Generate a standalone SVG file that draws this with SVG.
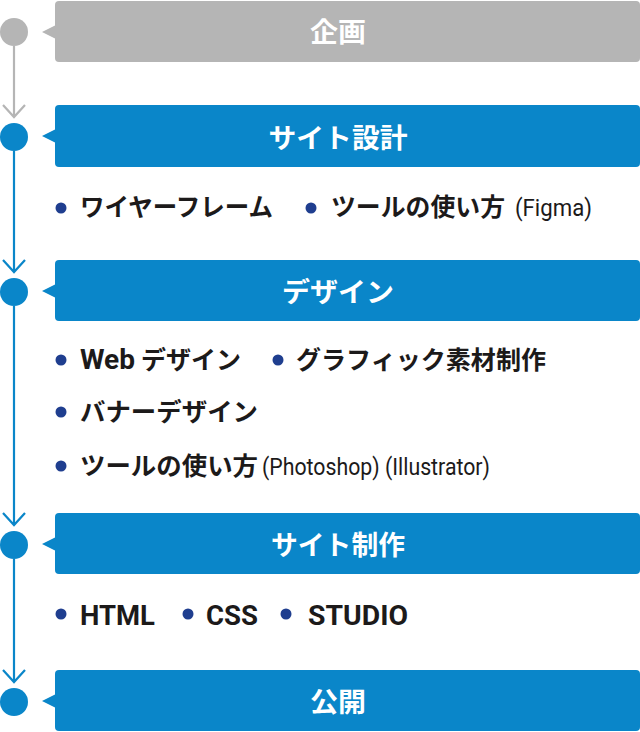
<svg xmlns="http://www.w3.org/2000/svg" width="640" height="732" viewBox="0 0 640 732">
<defs>
<style>
.gray{fill:#b5b5b5}
.blue{fill:#0a86c9}
.title{font-family:"Noto Sans CJK JP","Noto Sans",sans-serif;font-weight:bold;font-size:27px;fill:#ffffff;text-anchor:middle}
.item{font-family:"Noto Sans CJK JP","Noto Sans",sans-serif;font-weight:bold;font-size:25px;fill:#1c1a1a}
.lat{font-family:Roboto,"Liberation Sans",sans-serif;font-weight:bold;font-size:28px;fill:#1c1a1a}
.note{font-family:Roboto,"Liberation Sans",sans-serif;font-weight:normal;font-size:23px;fill:#1c1a1a}
.dot{fill:#1f3e8f}
.lg{stroke:#b5b5b5;stroke-width:2.2;fill:none}
.lb{stroke:#0a86c9;stroke-width:2.2;fill:none}
</style>
</defs>
<rect width="640" height="732" fill="#ffffff"/>

<g id="connectors">
<path class="lg" d="M14 46 V117 M3 105 L14 117 L25 105"/>
<path class="lb" d="M14 151 V272 M3 260 L14 272 L25 260"/>
<path class="lb" d="M14 306 V525 M3 513 L14 525 L25 513"/>
<path class="lb" d="M14 559 V682 M3 670 L14 682 L25 670"/>
</g>

<g id="node-kikaku">
<circle class="gray" cx="14" cy="32" r="14"/>
<polygon class="gray" points="42,32 56,25 56,39"/>
<rect class="gray" x="55" y="1" width="585" height="61" rx="4"/>
<text class="title" x="338" y="42" textLength="56" lengthAdjust="spacingAndGlyphs">企画</text>
</g>

<g id="node-site-sekkei">
<circle class="blue" cx="14" cy="137" r="14"/>
<polygon class="blue" points="42,136 56,129 56,143"/>
<rect class="blue" x="55" y="105" width="585" height="62" rx="4"/>
<text class="title" x="338" y="148" textLength="139" lengthAdjust="spacingAndGlyphs">サイト設計</text>
</g>

<g id="items-sekkei">
<circle class="dot" cx="61" cy="208" r="5.5"/>
<text class="item" x="80" y="216" textLength="193" lengthAdjust="spacingAndGlyphs">ワイヤーフレーム</text>
<circle class="dot" cx="311" cy="208" r="5.5"/>
<text class="item" x="331" y="216" textLength="174" lengthAdjust="spacingAndGlyphs">ツールの使い方</text>
<text class="note" x="515" y="216" textLength="77" lengthAdjust="spacingAndGlyphs">(Figma)</text>
</g>

<g id="node-design">
<circle class="blue" cx="14" cy="292" r="14"/>
<polygon class="blue" points="42,291 56,284 56,298"/>
<rect class="blue" x="55" y="260" width="585" height="61" rx="4"/>
<text class="title" x="338" y="302" textLength="112" lengthAdjust="spacingAndGlyphs">デザイン</text>
</g>

<g id="items-design">
<circle class="dot" cx="61" cy="360" r="5.5"/>
<text class="lat" x="80" y="369" textLength="55" lengthAdjust="spacingAndGlyphs">Web</text>
<text class="item" x="141" y="369" textLength="100" lengthAdjust="spacingAndGlyphs">デザイン</text>
<circle class="dot" cx="278" cy="360" r="5.5"/>
<text class="item" x="296" y="369" textLength="250" lengthAdjust="spacingAndGlyphs">グラフィック素材制作</text>
<circle class="dot" cx="61" cy="412" r="5.5"/>
<text class="item" x="80" y="421" textLength="178" lengthAdjust="spacingAndGlyphs">バナーデザイン</text>
<circle class="dot" cx="61" cy="466" r="5.5"/>
<text class="item" x="80" y="475" textLength="178" lengthAdjust="spacingAndGlyphs">ツールの使い方</text>
<text class="note" x="262" y="475" textLength="228" lengthAdjust="spacingAndGlyphs">(Photoshop) (Illustrator)</text>
</g>

<g id="node-site-seisaku">
<circle class="blue" cx="14" cy="545" r="14"/>
<polygon class="blue" points="42,544 56,537 56,551"/>
<rect class="blue" x="55" y="513" width="585" height="61" rx="4"/>
<text class="title" x="338" y="555" textLength="134" lengthAdjust="spacingAndGlyphs">サイト制作</text>
</g>

<g id="items-seisaku">
<circle class="dot" cx="61" cy="614" r="5.5"/>
<text class="lat" x="80" y="625" textLength="75" lengthAdjust="spacingAndGlyphs">HTML</text>
<circle class="dot" cx="188" cy="614" r="5.5"/>
<text class="lat" x="206" y="625" textLength="52" lengthAdjust="spacingAndGlyphs">CSS</text>
<circle class="dot" cx="286" cy="614" r="5.5"/>
<text class="lat" x="308" y="625" textLength="100" lengthAdjust="spacingAndGlyphs">STUDIO</text>
</g>

<g id="node-koukai">
<circle class="blue" cx="14" cy="702" r="14"/>
<polygon class="blue" points="42,701 56,694 56,708"/>
<rect class="blue" x="55" y="670" width="585" height="61" rx="4"/>
<text class="title" x="338" y="712" textLength="56" lengthAdjust="spacingAndGlyphs">公開</text>
</g>
</svg>
